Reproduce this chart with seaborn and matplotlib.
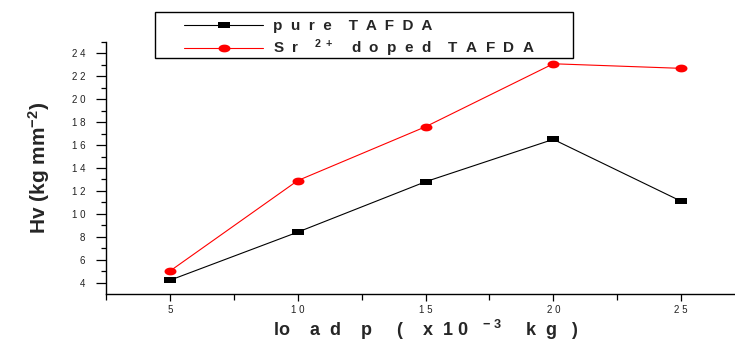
import numpy as np
import pandas as pd
import matplotlib
matplotlib.use("Agg")
import matplotlib.pyplot as plt
from matplotlib.path import Path
from matplotlib.patches import Rectangle
import seaborn as sns

load = [5, 10, 15, 20, 25]
pure_hv = [4.2, 8.4, 12.8, 16.5, 11.1]
sr_hv = [5.0, 12.9, 17.6, 23.1, 22.7]
xticks = [5, 10, 15, 20, 25]
yticks = [4, 6, 8, 10, 12, 14, 16, 18, 20, 22, 24]
pure_label = "p  u  r  e    T  A  F  D  A"
sr_label = "S  r    $^{2\\ +}$    d  o  p  e  d    T  A  F  D  A"

sns.set_theme(style="white")
plt.rcParams['font.family'] = ['Liberation Sans', 'DejaVu Sans']
plt.rcParams['mathtext.fontset'] = 'custom'
plt.rcParams['mathtext.rm'] = 'Liberation Sans:bold'
plt.rcParams['mathtext.it'] = 'Liberation Sans:bold'
plt.rcParams['mathtext.bf'] = 'Liberation Sans:bold'

df = pd.DataFrame({
    "load": load * 2,
    "hv": pure_hv + sr_hv,
    "series": [pure_label] * len(load) + [sr_label] * len(load),
})

# custom markers: flat rectangle and ellipse
rect = Path([(-1, -0.55), (1, -0.55), (1, 0.55), (-1, 0.55), (-1, -0.55)],
            [Path.MOVETO, Path.LINETO, Path.LINETO, Path.LINETO, Path.CLOSEPOLY])
t = np.linspace(0, 2 * np.pi, 60)
ell = Path(np.column_stack([np.cos(t), 0.65 * np.sin(t)]), closed=True)

W, H = 735, 344
fig = plt.figure(figsize=(7.35, 3.44), dpi=100)
ax = fig.add_axes([106 / W, 50 / H, 639 / W, 252 / H])

sns.lineplot(data=df[df.series == pure_label], x="load", y="hv", ax=ax,
             color="black", marker=rect, markersize=8, markeredgewidth=0,
             linewidth=0.8, label=pure_label)
sns.lineplot(data=df[df.series == sr_label], x="load", y="hv", ax=ax,
             color="#ff0000", marker=ell, markersize=8.6, markeredgewidth=0,
             linewidth=0.8, label=sr_label)

ax.set_xlim(2.5, 27.5)
ax.set_ylim(3, 25)
ax.set_xticks(xticks)
ax.set_xticklabels([" ".join(str(v)) for v in xticks])
ax.set_xticks([2.5, 7.5, 12.5, 17.5, 22.5, 27.5], minor=True)
ax.set_yticks(yticks)
ax.set_yticklabels([" ".join(str(v)) for v in yticks])
ax.set_yticks([5, 7, 9, 11, 13, 15, 17, 19, 21, 23, 25], minor=True)

for s in ["top", "right"]:
    ax.spines[s].set_visible(False)
for s in ["left", "bottom"]:
    ax.spines[s].set_color("black")
    ax.spines[s].set_linewidth(1.0)

ax.tick_params(axis="x", which="major", direction="out", length=5,
               width=0.9, color="black", labelsize=7, labelcolor="#222222",
               bottom=True, pad=3)
ax.tick_params(axis="x", which="minor", direction="out", length=4,
               width=0.9, color="black", bottom=True)
ax.tick_params(axis="y", which="major", direction="out", length=7,
               width=0.9, color="black", labelsize=7, labelcolor="#222222",
               left=True, pad=8)
ax.tick_params(axis="y", which="minor", direction="out", length=3.6,
               width=0.9, color="black", left=True)

ax.set_xlabel("lo    a  d    p     (    x  1 0   $^{-\\ 3}$     k  g   )",
              fontsize=13, fontweight="bold", labelpad=2)
ax.set_ylabel("Hv (kg mm$^{-2}$)", fontsize=15, fontweight="bold", labelpad=14)
ax.grid(False)

# legend: frame drawn as rectangle in figure pixels
ax.get_legend().remove()
fig.patches.append(Rectangle((155 / W, 1 - 58 / H), 418 / W, 46 / H,
                             transform=fig.transFigure, fill=False,
                             edgecolor="black", linewidth=1.0, zorder=5))
handles, labels = ax.get_legend_handles_labels()
leg = fig.legend(handles, labels, loc="upper left",
                 bbox_to_anchor=(184 / W, 1 - 19 / H),
                 frameon=False,
                 prop={"family": "Liberation Sans", "weight": "bold", "size": 11},
                 handlelength=5.2, handletextpad=0.6, borderpad=0,
                 labelspacing=0.3, borderaxespad=0)
for h in leg.legend_handles:
    h.set_linewidth(0.8)

fig.savefig("out.png", dpi=100)
